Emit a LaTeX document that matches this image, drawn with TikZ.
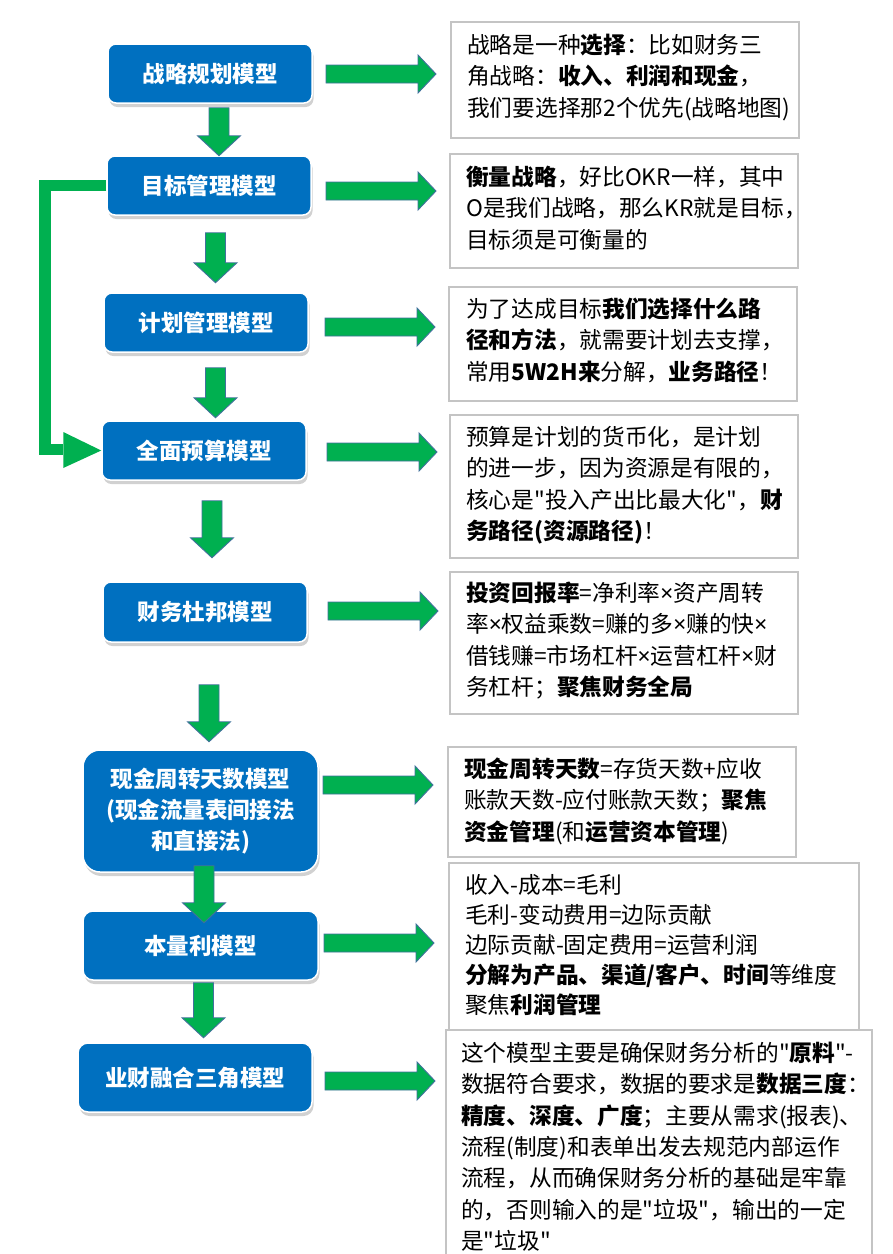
\documentclass[tikz,border=0pt]{standalone}
\usepackage{fontspec}
\setmainfont{Noto Sans CJK SC}[Ligatures=TeXOff]
\newfontfamily\latinf{Noto Sans}
\newcommand{\tms}{{\latinf ×}}
\usetikzlibrary{calc,shadows}
\definecolor{boxblue}{HTML}{0070C0}
\definecolor{arrgreen}{HTML}{00B050}
\definecolor{arredge}{HTML}{41719C}
\definecolor{tbord}{HTML}{C4C4C4}
\begin{document}
\begin{tikzpicture}[x=1pt,y=-1pt,
 model/.style={rectangle, rounded corners=8pt, fill=boxblue, draw=white, line width=1.5pt, text=white,
   font=\bfseries\fontsize{22.5}{31}\selectfont, align=center, inner sep=0pt,
   drop shadow={shadow xshift=1.5pt, shadow yshift=-4pt, fill=black!40, opacity=.45}},
 note/.style={rectangle, draw=tbord, line width=1.5pt, fill=white, inner sep=0pt, anchor=north west},
 notetext/.style={anchor=base west, inner sep=0pt, text width=420pt, align=left,
   font=\fontsize{22.7}{31.3}\selectfont},
 arrowfill/.style={fill=arrgreen, draw=arredge, line width=0.9pt, line join=miter},
 pics/rarr/.style={code={\filldraw[arrowfill] (0,-9) -- (92,-9) -- (92,-19) -- (110,0) -- (92,19) -- (92,9) -- (0,9) -- cycle;}},
 pics/darr/.style={code={\filldraw[arrowfill] (-10,0) -- (10,0) -- (10,#1-20) -- (21.5,#1-20) -- (0,#1) -- (-21.5,#1-20) -- (-10,#1-20) -- cycle;}},
]
\useasboundingbox (0,0) rectangle (893,1254);
\fill[white] (0,0) rectangle (893,1254);

% left model boxes
\node[model, minimum width=204pt, minimum height=59pt] (b1) at (210,73.5) {战略规划模型};
\node[model, minimum width=204pt, minimum height=59pt] (b2) at (209,185.5) {目标管理模型};
\node[model, minimum width=204pt, minimum height=59pt] (b3) at (206,322.5) {计划管理模型};
\node[model, minimum width=204pt, minimum height=59pt] (b4) at (204,450.5) {全面预算模型};
\node[model, minimum width=204pt, minimum height=60pt] (b5) at (205,612) {财务杜邦模型};
\node[model, rounded corners=17pt, minimum width=235pt, minimum height=122pt] (b6) at (200.5,811) {现金周转天数模型\\(现金流量表间接法\\和直接法)};
\node[model, rounded corners=10pt, minimum width=235pt, minimum height=69pt] (b7) at (200.5,945.5) {本量利模型};
\node[model, rounded corners=10pt, minimum width=234pt, minimum height=69pt] (b8) at (195,1077.5) {业财融合三角模型};

% green L connector from b2 to b4
\draw[draw=arrgreen, line width=11.5pt] (b2.west) -- ++(-61.5,0) |- ($(b4.west)+(-38,-1)$);
\fill[arrgreen] ($(b4.west)+(-38,-18.5)$) -- (b4.west) -- ($(b4.west)+(-38,17.5)$) -- cycle;

% down arrows
\pic (d1) at ($(b1.south)+(9,4)$) {darr=48};
\pic (d2) at ($(b2.south)+(6.5,17)$) {darr=50};
\pic (d3) at ($(b3.south)+(9.5,15)$) {darr=50};
\pic (d4) at ($(b4.south)+(8,20)$) {darr=57};
\pic (d5) at ($(b5.south)+(4,42)$) {darr=57};
\pic (d6) at ($(b6.south)+(3.5,-7)$) {darr=57};
\pic (d7) at ($(b7.south)+(3,2)$) {darr=55};

% right arrows
\pic (a1) at (326,74) {rarr};
\pic (a2) at (326,191) {rarr};
\pic (a3) at (325,327) {rarr};
\pic (a4) at (327,452) {rarr};
\pic (a5) at (328,611) {rarr};
\pic (a6) at (323,785) {rarr};
\pic (a7) at (324,943) {rarr};
\pic (a8) at (325,1081) {rarr};

% right note boxes
\node[note, minimum width=348pt, minimum height=116pt] (r1) at (450,21) {};
\node[note, minimum width=348pt, minimum height=114pt] (r2) at (449,153) {};
\node[note, minimum width=348pt, minimum height=114pt] (r3) at (448,286) {};
\node[note, minimum width=348pt, minimum height=143pt] (r4) at (449,414) {};
\node[note, minimum width=348pt, minimum height=142pt] (r5) at (449,571) {};
\node[note, minimum width=348pt, minimum height=110pt] (r6) at (447,746) {};
\node[note, minimum width=410pt, minimum height=168pt] (r7) at (448,862) {};
\node[note, minimum width=426pt, minimum height=250pt] (r8) at (445,1029) {};

\node[notetext] (t1) at ($(r1.north west)+(17,32.6)$) {战略是一种\textbf{选择}：比如财务三\\角战略：\textbf{收入、利润和现金}，\\我们要选择那2个优先(战略地图)};
\node[notetext] (t2) at ($(r2.north west)+(17,32.6)$) {\textbf{衡量战略}，好比OKR一样，其中\\O是我们战略，那么KR就是目标，\\目标须是可衡量的};
\node[notetext] (t3) at ($(r3.north west)+(18,31.6)$) {为了达成目标\textbf{我们选择什么路}\\\textbf{径和方法}，就需要计划去支撑，\\常用\textbf{5W2H来}分解，\textbf{业务路径}！};
\node[notetext] (t4) at ($(r4.north west)+(17,31.6)$) {预算是计划的货币化，是计划\\的进一步，因为资源是有限的，\\核心是"投入产出比最大化"，\textbf{财}\\\textbf{务路径(资源路径)}！};
\node[notetext] (t5) at ($(r5.north west)+(17,30.6)$) {\textbf{投资回报率}=净利率\tms 资产周转\\率\tms 权益乘数=赚的多\tms 赚的快\tms\\借钱赚=市场杠杆\tms 运营杠杆\tms 财\\务杠杆；\textbf{聚焦财务全局}};
\node[notetext] (t6) at ($(r6.north west)+(17,31.6)$) {\textbf{现金周转天数}=存货天数+应收\\账款天数-应付账款天数；\textbf{聚焦}\\\textbf{资金管理}(和\textbf{运营资本管理})};
\node[notetext, font=\fontsize{22.7}{30}\selectfont] (t7) at ($(r7.north west)+(17,31.6)$) {收入-成本=毛利\\毛利-变动费用=边际贡献\\边际贡献-固定费用=运营利润\\\textbf{分解为产品、渠道/客户、时间}等维度\\聚焦\textbf{利润管理}};
\node[notetext] (t8) at ($(r8.north west)+(16,32.6)$) {这个模型主要是确保财务分析的"\textbf{原料}"-\\数据符合要求，数据的要求是\textbf{数据三度}：\\\textbf{精度、深度、广度}；主要从需求(报表)、\\流程(制度)和表单出发去规范内部运作\\流程，从而确保财务分析的基础是牢靠\\的，否则输入的是"垃圾"，输出的一定\\是"垃圾"};
\end{tikzpicture}
\end{document}
